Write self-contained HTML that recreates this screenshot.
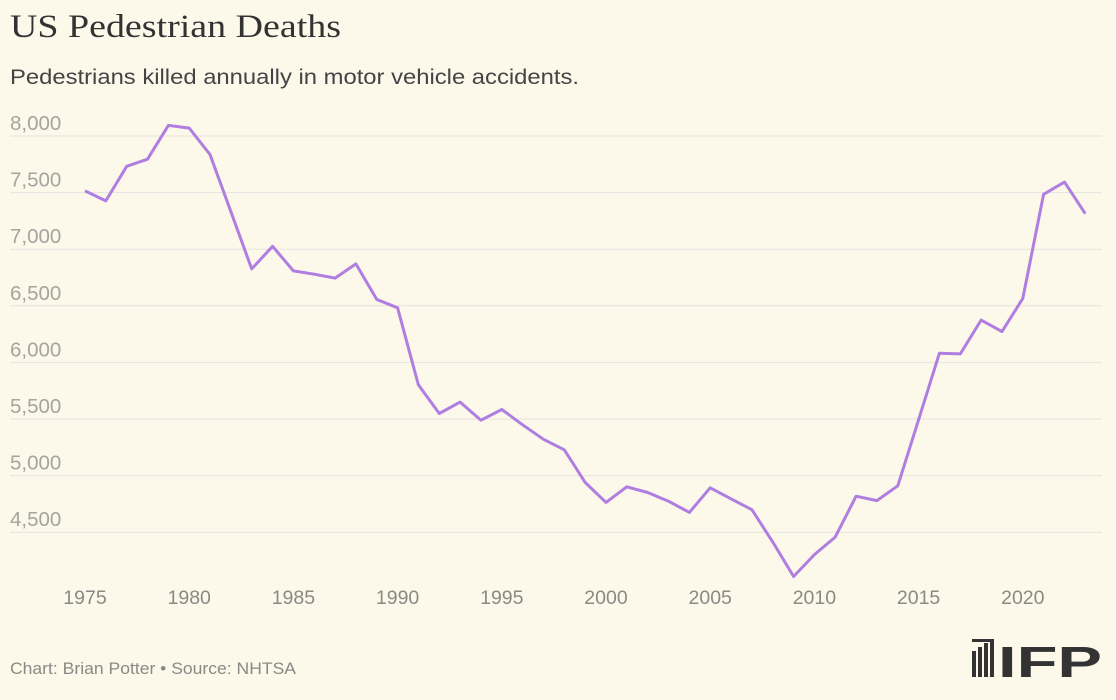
<!DOCTYPE html>
<html><head><meta charset="utf-8"><style>
body{margin:0;background:#fcf9eb;}
svg{display:block;font-family:"Liberation Sans",sans-serif;}
</style></head><body>
<svg width="1116" height="700" viewBox="0 0 1116 700">
<rect width="1116" height="700" fill="#fcf9eb"/>
<text x="10" y="37" font-family="Liberation Serif,serif" font-size="33" fill="#333" textLength="331" lengthAdjust="spacingAndGlyphs">US Pedestrian Deaths</text>
<text x="10" y="84" font-size="21" fill="#444" textLength="569" lengthAdjust="spacingAndGlyphs">Pedestrians killed annually in motor vehicle accidents.</text>
<g id="grid"></g><g id="xt"></g>
<path id="line" fill="none" stroke="#b07ee0" stroke-width="3" stroke-linejoin="round"/>
<text x="10" y="674" font-size="17" fill="#8a8a85" textLength="286" lengthAdjust="spacingAndGlyphs">Chart: Brian Potter • Source: NHTSA</text>
<g fill="#333">
<rect x="972" y="651" width="4" height="26"/><rect x="978" y="647" width="4" height="30"/><rect x="984" y="643" width="4" height="34"/><rect x="990" y="639" width="4" height="38"/>
<rect x="972" y="639" width="22" height="3"/>
<text x="998" y="677" font-size="44" font-weight="bold" fill="#333" textLength="104" lengthAdjust="spacingAndGlyphs">IFP</text>
</g>
</svg>
<script>
const years=[1975,1976,1977,1978,1979,1980,1981,1982,1983,1984,1985,1986,1987,1988,1989,1990,1991,1992,1993,1994,1995,1996,1997,1998,1999,2000,2001,2002,2003,2004,2005,2006,2007,2008,2009,2010,2011,2012,2013,2014,2015,2016,2017,2018,2019,2020,2021,2022,2023];
const deaths=[7516,7427,7732,7795,8094,8070,7837,7331,6826,7026,6808,6779,6745,6870,6556,6482,5801,5549,5649,5489,5584,5449,5321,5228,4939,4763,4901,4851,4774,4675,4892,4795,4699,4414,4109,4302,4457,4818,4779,4910,5494,6080,6075,6374,6272,6565,7485,7593,7314];
const yTicks=[4500,5000,5500,6000,6500,7000,7500,8000];
const xTicks=[1975,1980,1985,1990,1995,2000,2005,2010,2015,2020];
const NS='http://www.w3.org/2000/svg';
const x=v=>85+(v-1975)*20.84;
const y=v=>136+(8000-v)*0.1132;
const g=document.getElementById('grid');
yTicks.forEach(t=>{
 const l=document.createElementNS(NS,'line');
 l.setAttribute('x1',10);l.setAttribute('x2',1102);l.setAttribute('y1',y(t));l.setAttribute('y2',y(t));
 l.setAttribute('stroke','#e4e3de');l.setAttribute('stroke-width',1);
 
 
 g.appendChild(l);
 const tx=document.createElementNS(NS,'text');
 tx.setAttribute('x',10);tx.setAttribute('y',y(t)-6);tx.setAttribute('font-size',20.5);tx.setAttribute('fill','#a5a59e');
 tx.textContent=t.toLocaleString('en-US');
 
 
 g.appendChild(tx);
});
const xg=document.getElementById('xt');
xTicks.forEach(t=>{
 const tx=document.createElementNS(NS,'text');
 tx.setAttribute('x',x(t));tx.setAttribute('y',604);tx.setAttribute('font-size',19.5);tx.setAttribute('fill','#8a8a85');tx.setAttribute('text-anchor','middle');
 tx.textContent=t;
 
 
 xg.appendChild(tx);
});
document.getElementById('line').setAttribute('d',years.map((yr,i)=>(i?'L':'M')+x(yr).toFixed(1)+','+y(deaths[i]).toFixed(1)).join(''));
</script>
</body></html>
